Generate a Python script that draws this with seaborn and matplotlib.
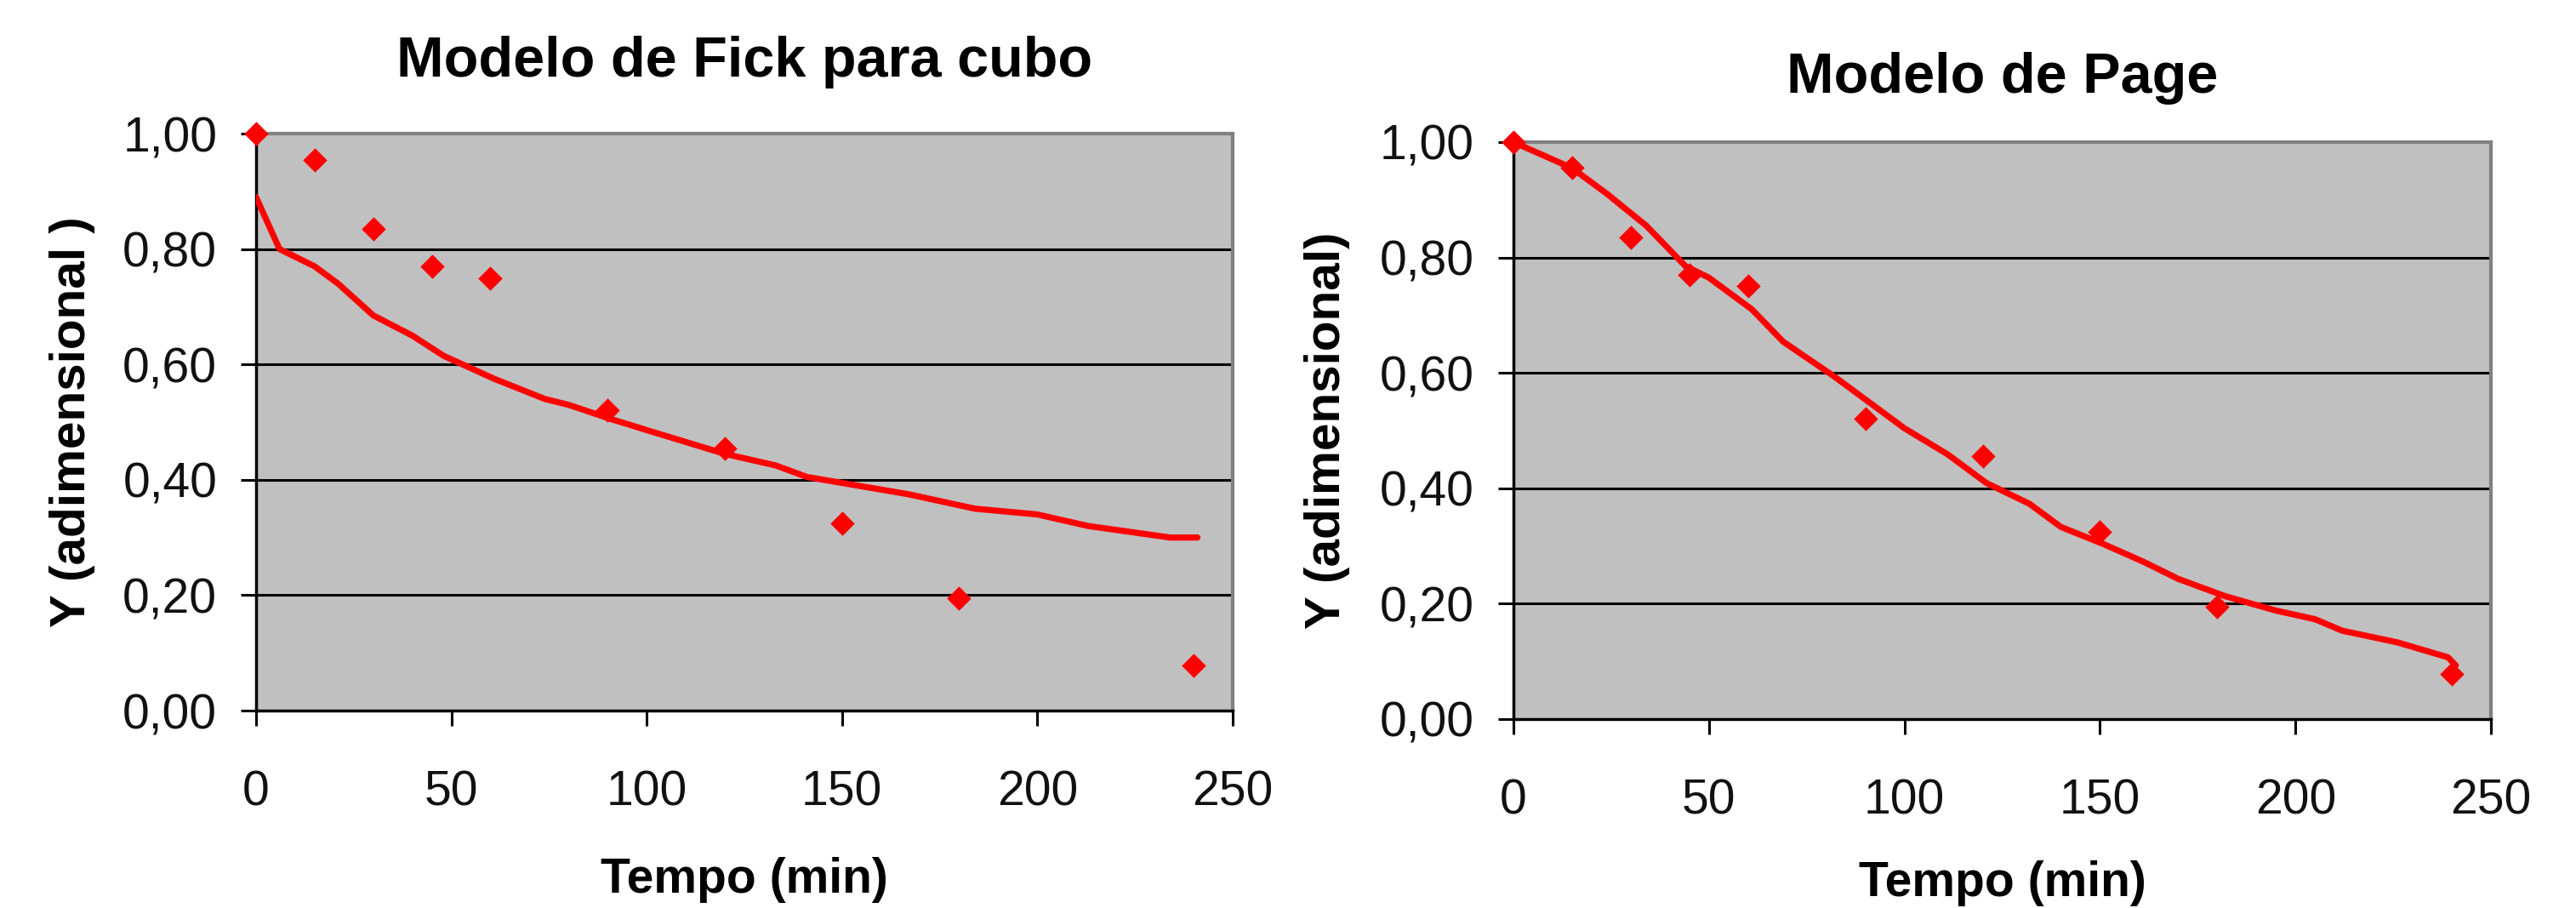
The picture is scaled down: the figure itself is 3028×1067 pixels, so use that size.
import matplotlib
matplotlib.use("Agg")
import matplotlib.pyplot as plt
import seaborn as sns
from matplotlib.ticker import FuncFormatter

# ---- data ----
tempo_exp = [0, 15, 30, 45, 60, 90, 120, 150, 180, 240]
y_exp = [1.00, 0.955, 0.835, 0.77, 0.75, 0.52, 0.455, 0.325, 0.195, 0.078]

tempo_fick = [0, 6, 15, 21, 30, 40, 48, 61, 74, 80, 91, 103, 120, 133, 141,
              154, 167, 184, 200, 213, 234, 241]
y_fick = [0.89, 0.80, 0.77, 0.74, 0.685, 0.65, 0.615, 0.575, 0.54, 0.53, 0.505,
          0.48, 0.445, 0.425, 0.405, 0.39, 0.375, 0.35, 0.34, 0.32, 0.30, 0.30]

tempo_page = [0, 15, 24, 34, 44, 50, 61, 69, 82, 92, 100, 111, 121, 132, 140,
              151, 161, 170, 182, 195, 205, 212, 226, 239, 241]
y_page = [1.00, 0.955, 0.91, 0.855, 0.785, 0.765, 0.71, 0.654, 0.594, 0.544,
          0.504, 0.459, 0.409, 0.373, 0.333, 0.303, 0.273, 0.243, 0.213, 0.188,
          0.173, 0.153, 0.133, 0.107, 0.093]

titles = ["Modelo de Fick para cubo", "Modelo de Page"]
ylabels = ["Y (adimensional )", "Y (adimensional)"]
xlabel = "Tempo (min)"
xticks = [0, 50, 100, 150, 200, 250]
yticks = [0.0, 0.2, 0.4, 0.6, 0.8, 1.0]

sns.set_style("white")
plt.rcParams["font.family"] = ["Liberation Sans", "DejaVu Sans"]
plt.rcParams["text.color"] = "black"
plt.rcParams["axes.labelcolor"] = "black"

fig = plt.figure(figsize=(30.28, 10.67), dpi=100)
ax1 = fig.add_axes([0.0994, 0.2174, 0.3791, 0.6354])
ax2 = fig.add_axes([0.5875, 0.2081, 0.3795, 0.6354])

curves = [(tempo_fick, y_fick), (tempo_page, y_page)]
title_pads = [48, 42]
ylabel_x = [-0.165, -0.167]
xlabel_y = [-0.254, -0.245]

for i, ax in enumerate([ax1, ax2]):
    ax.set_facecolor("#C0C0C0")
    ax.set_xlim(0, 250)
    ax.set_ylim(0, 1.0)
    ax.set_xticks(xticks)
    ax.set_yticks(yticks)
    ax.yaxis.set_major_formatter(FuncFormatter(lambda v, p: f"{v:.2f}".replace(".", ",")))
    ax.grid(False)
    for yv in yticks[1:-1]:
        ax.axhline(yv, color="black", lw=2.2, zorder=1)
    for side in ["left", "bottom"]:
        ax.spines[side].set_color("black")
        ax.spines[side].set_linewidth(2.5)
    for side in ["top", "right"]:
        ax.spines[side].set_color("#808080")
        ax.spines[side].set_linewidth(3)
    ax.tick_params(axis="both", direction="out", length=13, width=2.2, color="black",
                   labelsize=41, labelcolor="#111111", left=True, bottom=True)
    ax.tick_params(axis="x", pad=37)
    ax.tick_params(axis="y", pad=20)

    tx, ty = curves[i]
    sns.lineplot(x=tx, y=ty, ax=ax, color="#FF0000", linewidth=5.2, sort=False,
                 zorder=3)
    sns.scatterplot(x=tempo_exp, y=y_exp, ax=ax, marker="D", s=210, color="#FF0000",
                    linewidth=0, zorder=4, clip_on=False)

    ax.set_title(titles[i], fontsize=48, fontweight="bold", pad=title_pads[i],
                 color="black")
    ax.set_ylabel(ylabels[i], fontsize=42, fontweight="bold", color="black")
    ax.yaxis.set_label_coords(ylabel_x[i], 0.5)
    ax.set_xlabel(xlabel, fontsize=41, fontweight="bold", color="black")
    ax.xaxis.set_label_coords(0.5, xlabel_y[i])

fig.savefig("out.png", dpi=100, facecolor="white")
